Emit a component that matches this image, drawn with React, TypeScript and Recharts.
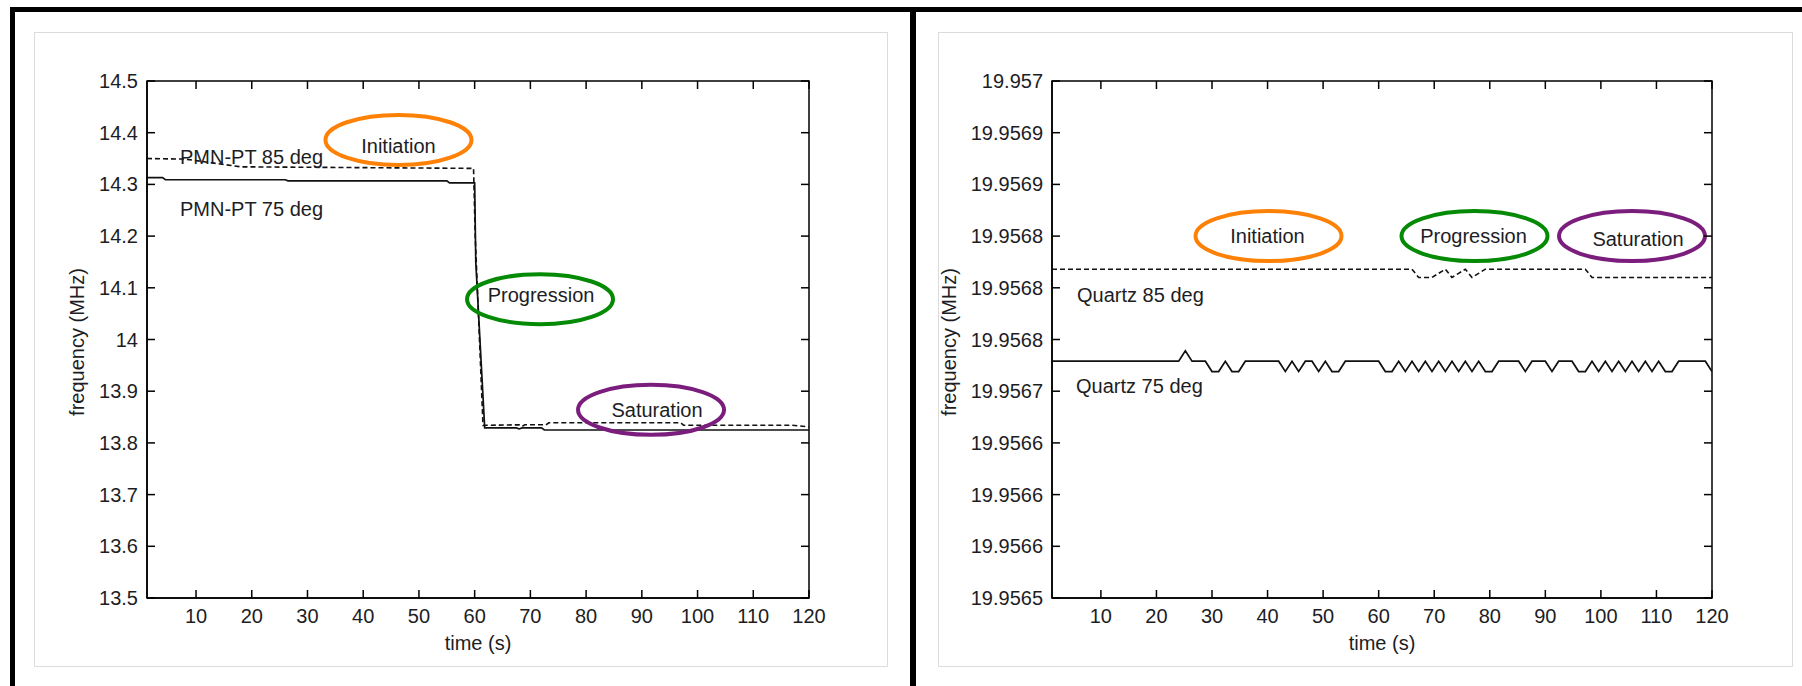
import { LineChart, Line, XAxis, YAxis, ReferenceDot, ReferenceArea } from "recharts";

const FONT = '"Liberation Sans", Arial, sans-serif';
const INK = "#1d1d24";
const LINE = "#111111";

// shared time axis (s)
const xTicks = [10, 20, 30, 40, 50, 60, 70, 80, 90, 100, 110, 120];
const X_DOMAIN: [number, number] = [1.2, 120];

// ---- left panel: PMN-PT ----
const pmnTicks = [13.5, 13.6, 13.7, 13.8, 13.9, 14, 14.1, 14.2, 14.3, 14.4, 14.5];
const pmnTickLabels = ["13.5", "13.6", "13.7", "13.8", "13.9", "14", "14.1", "14.2", "14.3", "14.4", "14.5"];

const pmn85Time = [1.2, 8, 12, 18, 59.8, 60.1, 61.5, 68, 68.5, 69, 72.8, 73.3, 97, 97.5, 117, 120];
const pmn85Freq = [14.35, 14.349, 14.343, 14.334, 14.331, 14.2, 13.834, 13.835, 13.832, 13.835, 13.835, 13.839, 13.839, 13.834, 13.834, 13.831];

const pmn75Time = [1.2, 4, 4.5, 26, 26.5, 55, 55.5, 60, 60.2, 61.8, 67.5, 68, 68.5, 72, 72.5, 120];
const pmn75Freq = [14.313, 14.313, 14.309, 14.309, 14.307, 14.307, 14.303, 14.303, 14.15, 13.829, 13.829, 13.827, 13.829, 13.829, 13.825, 13.825];

// ---- right panel: Quartz ----
const quartzTicks = [19.9565, 19.95655, 19.9566, 19.95665, 19.9567, 19.95675, 19.9568, 19.95685, 19.9569, 19.95695, 19.957];
const quartzTickLabels = ["19.9565", "19.9566", "19.9566", "19.9566", "19.9567", "19.9568", "19.9568", "19.9568", "19.9569", "19.9569", "19.957"];

// sampled every 1.2 s
const quartzTime = Array.from({ length: 100 }, (_, i) => +(1.2 * (i + 1)).toFixed(1));

// levels
const hi = 19.956729, lo = 19.956719, pk = 19.956739;
const h8 = 19.956818, m8 = 19.956814, l8 = 19.95681;

const quartz75Freq = [
  hi, hi, hi, hi, hi, hi, hi, hi, hi, hi,
  hi, hi, hi, hi, hi, hi, hi, hi, hi, hi,
  pk, hi, hi, hi, lo, lo, hi, lo, lo, hi,
  hi, hi, hi, hi, hi, lo, hi, lo, hi, hi,
  lo, hi, lo, lo, hi, hi, hi, hi, hi, hi,
  lo, lo, hi, lo, hi, lo, hi, lo, hi, lo,
  hi, lo, hi, lo, hi, lo, lo, hi, hi, hi,
  hi, lo, hi, hi, hi, lo, hi, hi, hi, lo,
  lo, hi, lo, hi, lo, hi, lo, hi, lo, hi,
  lo, hi, lo, lo, hi, hi, hi, hi, hi, lo,
];

const quartz85Freq = [
  h8, h8, h8, h8, h8, h8, h8, h8, h8, h8,
  h8, h8, h8, h8, h8, h8, h8, h8, h8, h8,
  h8, h8, h8, h8, h8, h8, h8, h8, h8, h8,
  h8, h8, h8, h8, h8, h8, h8, h8, h8, h8,
  h8, h8, h8, h8, h8, h8, h8, h8, h8, h8,
  h8, h8, h8, h8, h8, l8, l8, l8, m8, h8,
  l8, m8, h8, l8, m8, h8, h8, h8, h8, h8,
  h8, h8, h8, h8, h8, h8, h8, h8, h8, h8,
  h8, l8, l8, l8, l8, l8, l8, l8, l8, l8,
  l8, l8, l8, l8, l8, l8, l8, l8, l8, l8,
];

type Row = { t: number; f: number };
const rows = (ts: number[], fs: number[]): Row[] => ts.map((t, i) => ({ t, f: fs[i] }));

type Note = { t: number; f: number; label: string; color: string; dx: number; dy: number };
type Caption = { t: number; f: number; text: string };

const pmnNotes: Note[] = [
  { t: 46.33, f: 14.386, label: "Initiation", color: "#fd8107", dx: 0, dy: 13 },
  { t: 71.73, f: 14.078, label: "Progression", color: "#058a05", dx: 1, dy: 3 },
  { t: 91.65, f: 13.864, label: "Saturation", color: "#7a1d7d", dx: 6, dy: 7 },
];
const pmnCaptions: Caption[] = [
  { t: 7.12, f: 14.339, text: "PMN-PT 85 deg" },
  { t: 7.12, f: 14.239, text: "PMN-PT 75 deg" },
];

const quartzNotes: Note[] = [
  { t: 40.17, f: 19.95685, label: "Initiation", color: "#fd8107", dx: -1, dy: 7 },
  { t: 77.25, f: 19.95685, label: "Progression", color: "#058a05", dx: -1, dy: 7 },
  { t: 105.6, f: 19.95685, label: "Saturation", color: "#7a1d7d", dx: 6, dy: 10 },
];
const quartzCaptions: Caption[] = [
  { t: 5.7, f: 19.9567858, text: "Quartz 85 deg" },
  { t: 5.52, f: 19.9566987, text: "Quartz 75 deg" },
];

const PAGE_H = 686;
const PLOT_TOP = 81;
const PLOT_BOTTOM = 598;
const X_AXIS_H = 50;
const Y_AXIS_W = 80;
const TICK = 8;
const axisLine = { stroke: "#000", strokeWidth: 1.5 };
const txt = { fontFamily: FONT, fontSize: 20, fill: INK };

// MATLAB-style inward ticks, mirrored on the opposite side of the box
function makeBottomTick(plotH: number) {
  return (p: any) => (
    <g>
      <line x1={p.x} x2={p.x} y1={p.y} y2={p.y - TICK} stroke="#000" strokeWidth={1.5} />
      <line x1={p.x} x2={p.x} y1={p.y - plotH} y2={p.y - plotH + TICK} stroke="#000" strokeWidth={1.5} />
      <text x={p.x} y={p.y + 25} textAnchor="middle" {...txt}>
        {p.payload.value}
      </text>
    </g>
  );
}

function makeLeftTick(ticks: number[], labels: string[], plotW: number) {
  return (p: any) => {
    const i = ticks.indexOf(p.payload.value);
    return (
      <g>
        <line x1={p.x} x2={p.x + TICK} y1={p.y} y2={p.y} stroke="#000" strokeWidth={1.5} />
        <line x1={p.x + plotW} x2={p.x + plotW - TICK} y1={p.y} y2={p.y} stroke="#000" strokeWidth={1.5} />
        <text x={p.x - 9} y={p.y + 7} textAnchor="end" {...txt}>
          {i >= 0 ? labels[i] : p.payload.value}
        </text>
      </g>
    );
  };
}

type PanelProps = {
  x0: number;
  width: number;
  plotLeft: number;
  plotRight: number;
  yDomain: [number, number];
  yTicks: number[];
  yLabels: string[];
  dashed: Row[];
  solid: Row[];
  notes: Note[];
  captions: Caption[];
};

function Panel({ x0, width, plotLeft, plotRight, yDomain, yTicks, yLabels, dashed, solid, notes, captions }: PanelProps) {
  const margin = {
    top: PLOT_TOP,
    bottom: PAGE_H - PLOT_BOTTOM - X_AXIS_H,
    left: plotLeft - x0 - Y_AXIS_W,
    right: x0 + width - plotRight,
  };
  const plotW = plotRight - plotLeft;
  const plotH = PLOT_BOTTOM - PLOT_TOP;
  return (
    <div style={{ position: "absolute", left: x0, top: 0 }}>
      <LineChart width={width} height={PAGE_H} margin={margin}>
        <XAxis
          dataKey="t"
          type="number"
          domain={X_DOMAIN}
          ticks={xTicks}
          allowDataOverflow
          interval={0}
          height={X_AXIS_H}
          tickSize={0}
          tickMargin={0}
          tickLine={false}
          axisLine={axisLine}
          tick={makeBottomTick(plotH)}
        />
        <YAxis
          type="number"
          domain={yDomain}
          ticks={yTicks}
          allowDataOverflow
          interval={0}
          width={Y_AXIS_W}
          tickSize={0}
          tickMargin={0}
          tickLine={false}
          axisLine={axisLine}
          tick={makeLeftTick(yTicks, yLabels, plotW)}
        />
        <ReferenceArea
          x1={X_DOMAIN[0]}
          x2={X_DOMAIN[1]}
          y1={yDomain[0]}
          y2={yDomain[1]}
          fill="none"
          fillOpacity={0}
          stroke="#000"
          strokeWidth={1.5}
          ifOverflow="visible"
        />
        <Line
          data={dashed}
          dataKey="f"
          type="linear"
          stroke={LINE}
          strokeWidth={1.6}
          strokeDasharray="5 3"
          dot={false}
          isAnimationActive={false}
        />
        <Line
          data={solid}
          dataKey="f"
          type="linear"
          stroke={LINE}
          strokeWidth={1.7}
          dot={false}
          isAnimationActive={false}
        />
        {captions.map((c) => (
          <ReferenceDot
            key={c.text}
            x={c.t}
            y={c.f}
            r={0}
            ifOverflow="visible"
            shape={(p: any) => (
              <text x={p.cx} y={p.cy} {...txt}>
                {c.text}
              </text>
            )}
          />
        ))}
        {notes.map((n) => (
          <ReferenceDot
            key={n.label}
            x={n.t}
            y={n.f}
            r={0}
            ifOverflow="visible"
            shape={(p: any) => (
              <g>
                <ellipse cx={p.cx} cy={p.cy} rx={73} ry={25} fill="none" stroke={n.color} strokeWidth={4} />
                <text x={p.cx + n.dx} y={p.cy + n.dy} textAnchor="middle" {...txt}>
                  {n.label}
                </text>
              </g>
            )}
          />
        ))}
      </LineChart>
    </div>
  );
}

function AxisTitle({ x, y, text, rotate }: { x: number; y: number; text: string; rotate?: boolean }) {
  return (
    <div
      style={{
        position: "absolute",
        left: x,
        top: y,
        transform: `translate(-50%, -50%)${rotate ? " rotate(-90deg)" : ""}`,
        whiteSpace: "nowrap",
        fontFamily: FONT,
        fontSize: 20,
        color: INK,
        lineHeight: 1,
      }}
    >
      {text}
    </div>
  );
}

export default function App() {
  return (
    <div style={{ position: "fixed", left: 0, top: 0, width: 1802, height: PAGE_H, background: "#fff", overflow: "hidden" }}>
      {/* outer black rules */}
      <div style={{ position: "absolute", left: 10, top: 7, width: 1792, height: 5, background: "#000" }} />
      <div style={{ position: "absolute", left: 10, top: 7, width: 5, height: 679, background: "#000" }} />
      <div style={{ position: "absolute", left: 910, top: 7, width: 6, height: 679, background: "#000" }} />
      {/* light panel frames */}
      <div style={{ position: "absolute", left: 34, top: 32, width: 854, height: 635, border: "1px solid #dcdcdc", boxSizing: "border-box" }} />
      <div style={{ position: "absolute", left: 938, top: 32, width: 855, height: 635, border: "1px solid #dcdcdc", boxSizing: "border-box" }} />

      <Panel
        x0={0}
        width={900}
        plotLeft={147}
        plotRight={809}
        yDomain={[13.5, 14.5]}
        yTicks={pmnTicks}
        yLabels={pmnTickLabels}
        dashed={rows(pmn85Time, pmn85Freq)}
        solid={rows(pmn75Time, pmn75Freq)}
        notes={pmnNotes}
        captions={pmnCaptions}
      />
      <Panel
        x0={900}
        width={902}
        plotLeft={1052}
        plotRight={1712}
        yDomain={[19.9565, 19.957]}
        yTicks={quartzTicks}
        yLabels={quartzTickLabels}
        dashed={rows(quartzTime, quartz85Freq)}
        solid={rows(quartzTime, quartz75Freq)}
        notes={quartzNotes}
        captions={quartzCaptions}
      />

      <AxisTitle x={77} y={342} text="frequency (MHz)" rotate />
      <AxisTitle x={478} y={643} text="time (s)" />
      <AxisTitle x={949} y={342} text="frequency (MHz)" rotate />
      <AxisTitle x={1382} y={643} text="time (s)" />
    </div>
  );
}
